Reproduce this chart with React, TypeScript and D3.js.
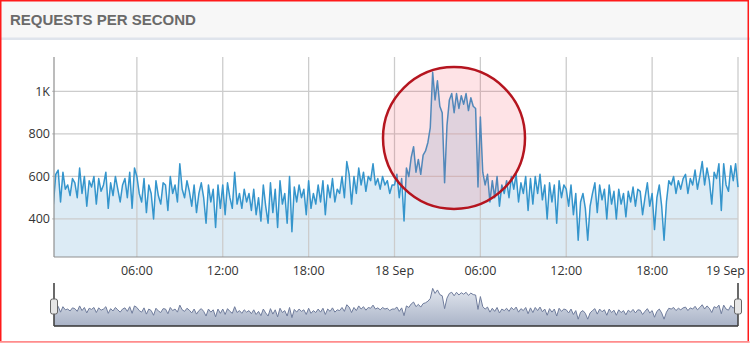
import React from "react";
import * as d3 from "d3";

const TITLE = "REQUESTS PER SECOND";
const START = Date.UTC(2024, 8, 17, 0, 0);
const STEP_MIN = 10;

const segA = [560, 470, 610, 630, 480, 620, 540, 560, 510, 590, 570, 500, 640, 520, 600, 460, 580, 550, 600, 470, 590, 530, 560, 620, 450, 570, 510, 600, 540, 480, 560, 590, 500, 620, 450, 640];
const segB = [600, 520, 480, 590, 430, 560, 520, 400, 580, 510, 470, 570, 560, 440, 600, 520, 560, 480, 660, 540, 500, 580, 530, 460, 560, 430, 520, 570, 500, 380, 560, 480, 540, 360, 560, 450];
const segC = [560, 420, 570, 500, 450, 620, 470, 520, 450, 540, 480, 520, 440, 540, 420, 500, 390, 560, 460, 380, 570, 430, 540, 360, 580, 470, 520, 380, 600, 340, 550, 480, 560, 500, 540, 420];
const segD = [580, 450, 520, 470, 560, 480, 580, 420, 560, 500, 590, 480, 540, 520, 600, 500, 670, 610, 470, 600, 520, 640, 560, 620, 530, 600, 580, 660, 560, 590, 540, 600, 560, 580, 520, 560];
const segE = [560, 610, 500, 590, 390, 640, 600, 690, 740, 620, 680, 610, 700, 720, 760, 830, 1090, 960, 1050, 930, 900, 570, 840, 960, 990, 900, 990, 920, 980, 940, 990, 910, 970, 930, 920, 550];
const segF = [880, 620, 560, 610, 480, 580, 500, 600, 460, 560, 520, 580, 500, 600, 540, 610, 480, 570, 520, 600, 440, 590, 470, 600, 520, 610, 490, 560, 400, 570, 480, 560, 380, 580, 500, 560];
const segG = [540, 460, 560, 420, 520, 300, 480, 520, 450, 300, 460, 520, 570, 430, 560, 490, 540, 400, 560, 470, 530, 400, 540, 470, 520, 410, 530, 480, 550, 460, 540, 530, 420, 500, 570, 460];
const segH = [520, 350, 500, 560, 460, 300, 480, 580, 560, 600, 520, 580, 540, 590, 610, 520, 590, 560, 630, 540, 600, 670, 560, 640, 580, 470, 620, 590, 660, 440, 660, 560, 530, 650, 580, 660, 550];

const requests = [...segA, ...segB, ...segC, ...segD, ...segE, ...segF, ...segG, ...segH];

const yTicks = [400, 600, 800, 1000];
const yTickLabels = ["400", "600", "800", "1K"];
const xTickHours = [6, 12, 18, 24, 30, 36, 42, 48];
const xTickLabels = ["06:00", "12:00", "18:00", "18 Sep", "06:00", "12:00", "18:00", "19 Sep"];

const W = 750;
const H = 343;
const PL = 54;
const PR = 738;
const PT = 57;
const PB = 257;
const NT = 283;
const NB = 326;

export default function App() {
  const data = requests.map((v, i) => ({ t: new Date(START + i * STEP_MIN * 60000), v }));
  const x = d3.scaleUtc().domain([new Date(START), new Date(START + 48 * 3600000)]).range([51, PR]);
  const y = d3.scaleLinear().domain([221, 1162]).range([PB, PT]);
  const yn = d3.scaleLinear().domain([150, 1100]).range([325, 288]);

  const line = d3.line<any>().x((d) => x(d.t)).y((d) => y(d.v));
  const area = d3.area<any>().x((d) => x(d.t)).y0(PB).y1((d) => y(d.v));
  const nline = d3.line<any>().x((d) => x(d.t)).y((d) => yn(d.v));
  const narea = d3.area<any>().x((d) => x(d.t)).y0(NB).y1((d) => yn(d.v));

  const font = "'Open Sans', 'DejaVu Sans', sans-serif";

  return (
    <svg width={W} height={H} style={{ position: "absolute", left: 0, top: 0 }} fontFamily={font}>
      <defs>
        <clipPath id="plotClip">
          <rect x={PL} y={PT - 20} width={PR - PL + 2} height={PB - PT + 20} />
        </clipPath>
        <clipPath id="navClip">
          <rect x={PL} y={NT} width={PR - PL} height={NB - NT} />
        </clipPath>
        <linearGradient id="navGrad" x1="0" y1="0" x2="0" y2="1">
          <stop offset="0%" stopColor="#e2e6ee" />
          <stop offset="100%" stopColor="#a9b3c7" />
        </linearGradient>
      </defs>
      <rect x={0} y={0} width={W} height={H} fill="#ffffff" />
      {/* header */}
      <rect x={0} y={0} width={W} height={38} fill="#f7f7f7" />
      <rect x={0} y={37.5} width={W} height={2.5} fill="#dfe4ec" />
      <text x={10} y={25} fontFamily="'Liberation Sans', Arial, sans-serif" fontWeight="bold" fontSize={15} fill="#6a6a6a">
        {TITLE}
      </text>

      {/* plot area fill + line */}
      <g clipPath="url(#plotClip)">
        <path d={area(data) || ""} fill="#dcebf5" />
      </g>
      {/* grid */}
      {yTicks.map((t) => (
        <line key={"gy" + t} x1={PL - 2} x2={PR} y1={y(t)} y2={y(t)} stroke="#cccccc" strokeWidth={1.3} />
      ))}
      {xTickHours.map((h) => {
        const xx = x(new Date(START + h * 3600000));
        return <line key={"gx" + h} x1={xx} x2={xx} y1={PT} y2={PB} stroke="#cccccc" strokeWidth={1.3} />;
      })}
      <g clipPath="url(#plotClip)">
        <path d={line(data) || ""} fill="none" stroke="#3595cc" strokeWidth={1.5} strokeLinejoin="round" />
      </g>
      {/* axes */}
      <line x1={PL} x2={PL} y1={PT} y2={PB} stroke="#8f8f8f" strokeWidth={1.2} />
      <line x1={PL} x2={PR} y1={PB} y2={PB} stroke="#8f8f8f" strokeWidth={1.2} />
      {yTicks.map((t, i) => (
        <text key={"yl" + t} x={50} y={y(t) + 4.5} textAnchor="end" fontSize={12.5} fill="#333">
          {yTickLabels[i]}
        </text>
      ))}
      {xTickHours.map((h, i) => {
        const xx = x(new Date(START + h * 3600000));
        const last = i === xTickHours.length - 1;
        return (
          <text key={"xl" + h} x={last ? 745 : xx} y={275} textAnchor={last ? "end" : "middle"} fontSize={12.5} fill="#333">
            {xTickLabels[i]}
          </text>
        );
      })}

      {/* navigator */}
      <g clipPath="url(#navClip)">
        <path d={narea(data) || ""} fill="url(#navGrad)" />
        <path d={nline(data) || ""} fill="none" stroke="#6f7c9c" strokeWidth={1} />
      </g>
      <line x1={PL} x2={PR} y1={NB} y2={NB} stroke="#333" strokeWidth={1.6} />
      <line x1={PL} x2={PL} y1={NT} y2={NB} stroke="#444" strokeWidth={1.6} />
      <line x1={PR} x2={PR} y1={NT} y2={NB} stroke="#444" strokeWidth={1.6} />
      <rect x={PL - 3.5} y={299} width={7} height={15} rx={2} fill="#e6e6e6" stroke="#666" strokeWidth={1} />
      <rect x={PR - 3.5} y={299} width={7} height={15} rx={2} fill="#e6e6e6" stroke="#666" strokeWidth={1} />

      {/* highlight circle */}
      <circle cx={454} cy={138} r={71} fill="rgba(245, 70, 90, 0.15)" stroke="#b5151f" strokeWidth={2.5} />

      {/* outer border */}
      <rect x={0.75} y={0.75} width={W - 2.5} height={H - 2} fill="none" stroke="#ff1a1a" strokeWidth={1.5} />
      <line x1={0} x2={W} y1={H - 1} y2={H - 1} stroke="#ffb3b3" strokeWidth={1.5} />
    </svg>
  );
}
